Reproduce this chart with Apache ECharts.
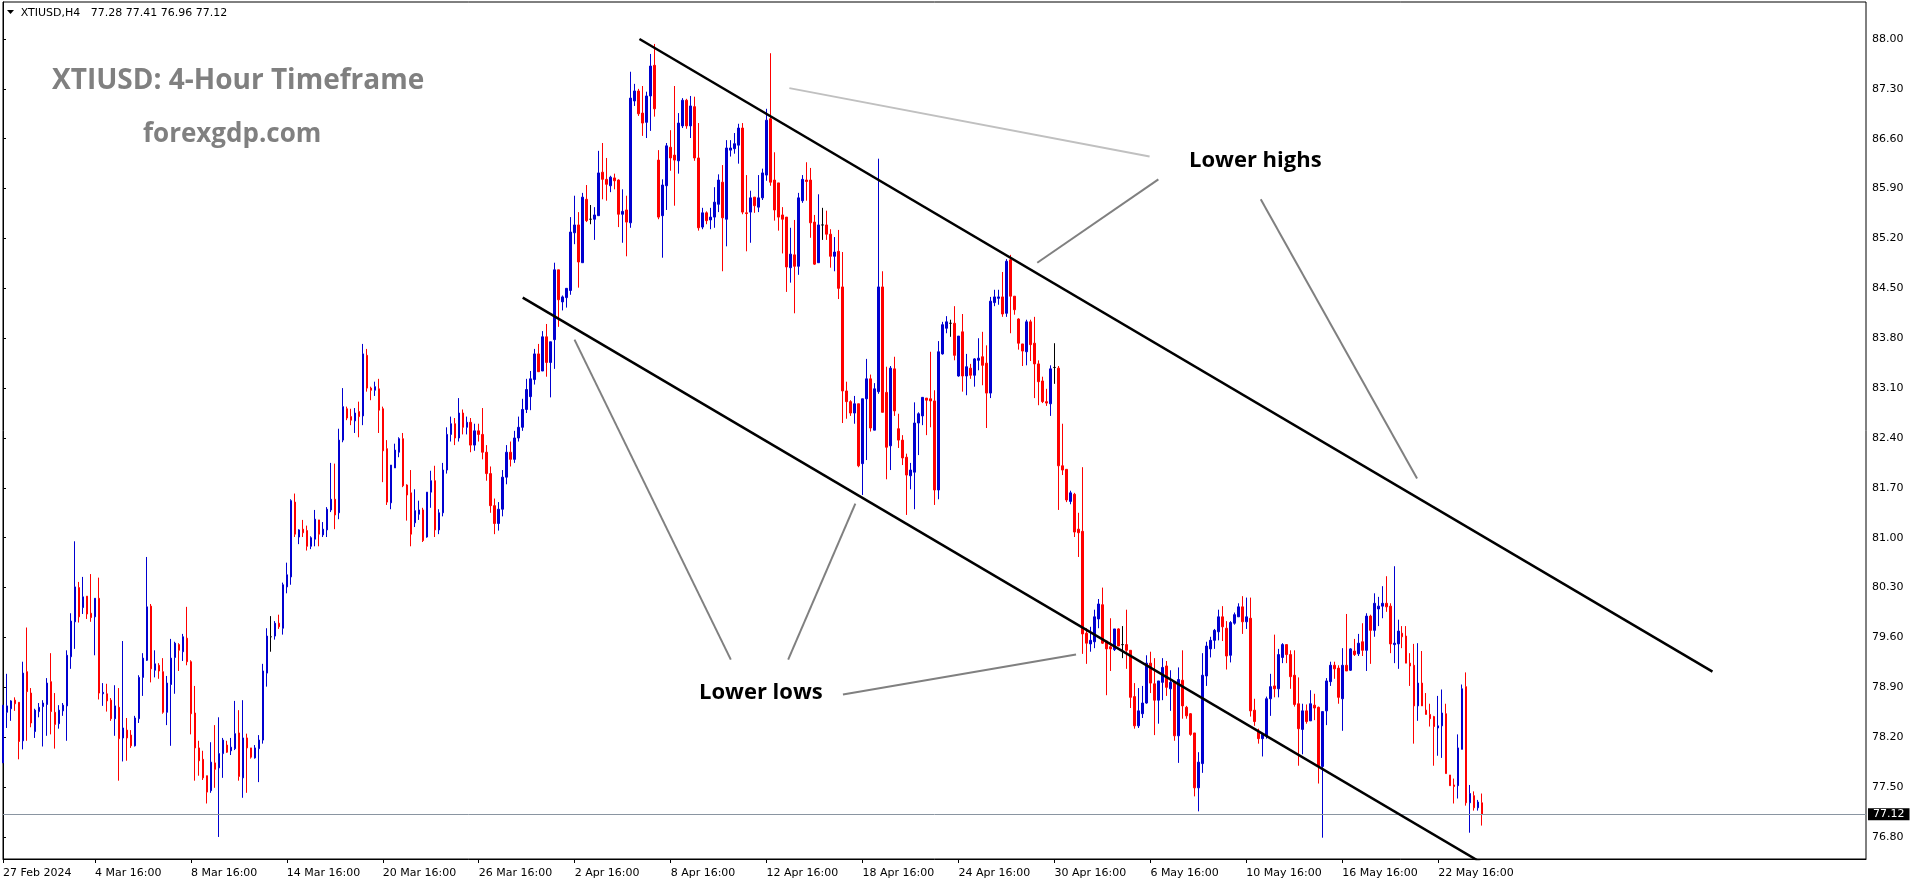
<!DOCTYPE html>
<html><head><meta charset="utf-8">
<script src="https://cdn.jsdelivr.net/npm/echarts@6/dist/echarts.min.js"></script>
<style>html,body{margin:0;padding:0;background:#fff;overflow:hidden}#c{width:1916px;height:884px}</style>
</head><body><div id="c"></div><script>
// ---- candle data (H4 bars, oldest first) ----
const opens = [
77.84,78.55,78.60,78.72,78.69,78.15,79.12,78.82,78.28,78.56,
78.63,78.66,78.98,78.55,78.39,78.57,78.64,79.33,79.82,80.30,
80.02,80.18,79.94,79.89,80.15,78.81,78.81,78.72,78.46,78.62,
78.19,78.30,78.23,78.08,78.46,79.04,79.28,80.04,79.14,79.21,
79.12,78.55,78.94,79.32,79.50,79.40,79.59,79.26,78.54,78.05,
77.89,77.66,77.45,77.84,77.77,77.97,78.09,78.01,78.04,78.26,
77.63,78.19,78.05,77.91,78.04,78.16,79.10,79.61,79.62,79.80,
79.73,80.31,80.45,81.50,81.01,81.12,81.10,80.88,80.98,81.25,
81.04,81.11,81.39,81.54,81.35,82.37,82.81,82.70,82.64,82.77,
82.71,83.56,83.10,83.07,83.09,82.81,82.25,81.49,81.98,82.20,
82.39,81.74,81.63,81.21,81.33,81.39,81.01,81.64,81.80,81.11,
81.35,81.95,82.45,82.60,82.40,82.75,82.55,82.62,82.30,82.50,
82.45,82.20,81.90,81.45,81.20,81.40,81.85,82.20,82.10,82.40,
82.55,82.80,82.98,83.22,83.58,83.34,83.82,83.46,83.78,84.76,
84.31,84.37,84.47,85.28,85.39,84.86,85.75,85.47,85.47,85.52,
86.13,86.03,85.94,86.05,86.02,85.54,85.60,85.42,87.13,87.27,
86.96,86.83,87.20,87.63,86.30,85.52,85.94,86.48,86.37,86.29,
86.78,87.14,86.78,87.05,86.33,85.36,85.56,85.46,85.50,85.68,
85.99,85.47,86.44,86.46,86.51,86.75,85.56,85.57,85.78,85.64,
85.77,86.09,86.88,86.02,85.98,85.53,85.50,84.79,84.97,84.81,
85.73,86.02,86.02,85.43,84.86,85.39,85.39,85.26,84.95,85.02,
84.52,83.06,82.91,82.75,82.88,82.04,82.95,83.23,82.51,83.05,
84.52,83.04,82.29,83.37,82.53,82.37,82.13,81.87,81.92,82.61,
82.71,82.96,82.95,82.92,81.67,83.58,83.94,84.01,84.01,83.27,
83.89,83.27,83.38,83.28,83.49,83.54,83.45,83.03,84.30,84.36,
84.38,84.15,84.90,84.39,84.07,83.72,83.61,84.03,83.73,83.44,
83.20,82.91,82.88,83.39,83.38,82.01,81.96,81.51,81.61,81.12,
81.09,79.66,79.51,79.54,79.86,80.06,79.55,79.47,79.43,79.72,
79.50,79.50,79.42,78.77,78.36,78.53,78.68,79.24,78.95,78.72,
78.97,79.20,78.88,78.97,78.22,79.00,78.62,78.53,78.26,77.49,
77.83,79.06,79.44,79.56,79.68,79.89,79.73,79.35,79.80,79.89,
80.03,79.82,79.87,78.58,78.28,78.18,78.22,78.74,78.92,78.88,
79.32,79.50,79.36,79.07,78.67,78.31,78.57,78.43,78.65,78.62,
77.79,78.57,78.98,79.21,79.17,78.74,79.21,79.14,79.41,79.37,
79.54,79.42,79.90,79.70,80.00,80.04,80.08,80.04,79.50,79.51,
79.66,79.62,79.24,79.21,78.64,78.96,78.58,78.52,78.49,78.33,
78.36,78.53,77.67,77.53,77.52,78.03,78.91,77.28,77.38,77.21,77.28];
const highs = [
78.65,79.09,78.72,78.76,78.69,79.26,79.74,78.89,78.60,78.68,
78.72,79.03,79.38,78.82,78.65,78.68,79.42,79.94,80.95,80.38,
80.45,80.18,80.49,80.15,80.44,78.96,78.95,78.75,78.93,78.89,
79.55,78.47,78.30,78.50,79.07,79.38,80.73,80.07,79.42,79.24,
79.31,79.06,79.58,79.54,79.52,79.65,80.03,79.28,78.92,78.15,
78.01,77.66,78.13,78.37,78.48,78.19,78.15,78.19,78.71,78.58,
78.72,78.25,78.05,78.09,78.23,79.23,79.73,79.90,79.83,79.92,
80.37,80.65,81.54,81.62,81.12,81.25,81.17,81.02,81.39,81.25,
81.22,81.43,82.05,82.04,82.53,83.10,82.84,82.81,82.82,82.91,
83.72,83.65,83.12,83.19,83.23,82.84,82.37,82.02,82.32,82.41,
82.47,81.75,81.95,81.68,81.52,81.42,81.64,81.94,82.01,81.40,
82.05,82.55,82.70,82.68,82.96,82.80,82.70,82.68,82.60,82.60,
82.82,82.30,82.00,81.55,81.50,81.95,82.30,82.35,82.50,82.70,
82.95,83.23,83.34,83.65,83.72,83.90,84.00,83.75,84.86,84.76,
84.40,84.50,85.50,85.80,85.57,85.84,85.95,85.67,85.64,86.43,
86.54,86.33,86.08,86.11,86.03,85.89,85.80,87.54,87.37,87.30,
87.34,87.26,87.79,87.93,86.44,86.03,86.54,86.72,87.34,86.96,
87.17,87.16,87.20,87.19,86.82,85.63,85.58,85.63,85.92,86.10,
86.23,86.58,86.58,86.68,86.81,86.82,86.09,85.87,85.78,86.09,
86.18,87.02,87.80,86.41,85.98,85.64,85.50,85.35,85.46,85.84,
86.09,86.27,86.19,85.53,85.82,85.63,85.59,85.33,85.22,85.32,
85.01,83.19,82.93,82.99,82.88,82.95,83.51,83.29,83.17,86.32,
84.74,83.40,83.41,83.54,82.74,82.44,82.18,82.05,82.90,82.76,
82.97,82.96,83.61,83.07,83.76,84.03,84.11,84.06,84.25,83.83,
84.14,83.58,83.44,83.52,83.80,83.89,83.70,84.38,84.48,84.48,
84.73,84.91,84.97,84.39,84.08,83.72,84.06,84.06,84.10,83.49,
83.26,83.09,83.42,83.73,83.41,82.60,81.96,81.66,81.63,81.35,
81.99,79.73,79.75,79.99,80.14,80.30,79.55,79.87,79.72,79.73,
79.76,79.99,79.42,78.96,78.89,78.92,79.35,79.40,79.31,78.99,
79.31,79.27,79.14,78.97,79.18,79.42,78.64,78.54,78.26,77.99,
79.38,79.54,79.61,79.72,79.99,80.04,79.83,79.83,79.95,80.08,
80.18,80.16,80.16,78.74,78.32,78.24,78.77,79.09,79.64,79.44,
79.52,79.50,79.42,79.42,79.04,78.67,78.66,78.86,78.81,78.63,
78.56,79.03,79.26,79.26,79.21,79.45,79.93,79.45,79.58,79.65,
79.80,79.94,79.92,80.22,80.17,80.32,80.46,80.08,80.60,79.85,
79.76,79.76,79.38,79.51,79.52,79.41,78.82,78.67,78.50,78.78,
78.87,78.67,77.67,77.62,78.24,78.94,79.11,77.53,77.44,77.32,77.41];
const lows = [
77.84,78.33,78.43,78.57,77.89,78.03,78.15,78.34,78.19,78.48,
78.07,78.22,78.24,78.04,78.32,78.50,78.15,79.16,79.44,79.81,
79.93,79.86,79.82,79.35,78.73,78.64,78.56,78.43,78.22,77.59,
77.86,77.87,78.05,78.07,78.40,78.78,79.27,78.97,79.04,79.02,
78.53,78.37,78.08,78.81,79.13,79.27,79.21,78.24,77.59,77.66,
77.60,77.27,77.42,77.49,76.80,77.63,77.98,77.95,78.02,77.59,
77.35,77.42,77.90,77.90,77.57,78.11,78.91,79.40,79.57,79.72,
79.64,80.22,80.34,81.01,80.91,81.01,80.82,80.84,80.88,80.88,
81.01,81.01,81.36,81.12,81.26,82.34,82.65,82.58,82.47,82.41,
82.58,83.05,82.93,82.99,82.47,81.78,81.46,81.40,81.98,82.13,
81.71,81.24,80.88,81.15,81.25,80.94,81.00,81.42,81.01,81.05,
81.30,81.90,82.35,82.30,82.35,82.45,82.45,82.20,82.22,82.35,
82.10,81.80,81.35,81.05,81.10,81.30,81.75,82.00,82.05,82.35,
82.50,82.75,82.79,83.15,83.33,83.34,83.26,82.97,83.37,83.96,
84.19,84.23,84.41,85.12,84.51,84.86,85.43,85.40,85.18,85.52,
85.75,85.73,85.85,85.89,85.36,85.14,84.95,85.35,87.06,86.92,
86.64,86.61,86.71,86.91,85.47,84.93,85.60,86.15,85.66,86.11,
86.75,86.74,86.61,86.29,85.31,85.33,85.40,85.33,85.35,85.57,
84.74,85.09,86.35,86.39,86.25,85.54,85.02,85.14,85.56,85.57,
85.74,86.01,85.94,85.45,85.31,84.99,84.45,84.58,84.15,84.69,
85.70,85.73,85.21,84.83,84.86,85.18,85.18,84.79,84.74,84.35,
82.61,82.67,82.71,82.60,81.99,81.60,82.09,82.49,82.51,83.02,
82.76,81.82,81.95,82.71,82.26,82.02,81.32,81.68,81.40,82.16,
82.58,82.44,82.55,81.46,81.54,83.57,83.87,83.82,83.49,83.26,
83.05,83.00,83.23,83.12,83.35,83.14,82.54,82.96,84.25,84.27,
84.10,84.10,83.87,84.13,83.64,83.41,83.42,83.48,82.96,82.86,
82.89,82.85,82.71,83.16,81.39,81.88,81.50,81.47,81.01,80.73,
79.37,79.23,79.40,79.45,79.73,79.51,78.79,79.13,79.41,79.48,
79.31,79.16,78.61,78.32,78.33,78.47,78.67,78.82,78.23,78.39,
78.72,78.78,78.57,78.15,77.84,78.46,78.46,78.22,77.37,77.16,
77.70,78.92,79.32,79.44,79.56,79.55,79.15,79.25,79.78,79.89,
79.65,79.72,78.49,78.36,78.11,77.93,78.18,78.50,78.76,78.76,
79.24,79.24,78.88,78.63,77.80,77.96,78.39,78.43,78.44,77.55,
76.79,78.37,78.92,79.02,78.67,78.29,79.13,79.13,79.34,79.34,
79.34,79.13,79.23,79.61,79.76,79.87,79.96,79.38,79.24,79.16,
79.45,79.24,78.92,78.11,78.43,78.64,78.52,78.35,77.80,77.94,
77.91,77.69,77.52,77.27,77.34,78.03,77.24,76.86,77.17,77.17,76.96];
const closes = [
78.65,78.64,78.71,78.67,78.14,79.10,78.84,78.40,78.58,78.62,
78.68,78.96,78.56,78.38,78.58,78.65,79.35,79.83,80.31,79.89,
80.17,79.93,79.88,80.15,78.82,78.83,78.71,78.46,78.64,78.18,
78.33,78.19,78.08,78.47,79.04,79.31,80.03,79.16,79.23,79.13,
78.55,78.96,79.31,79.52,79.42,79.61,79.26,78.53,78.05,77.87,
77.63,77.43,77.85,77.75,77.97,78.16,77.99,78.06,78.25,77.65,
78.19,78.05,77.92,78.05,78.16,79.13,79.62,79.61,79.80,79.75,
80.34,80.48,81.52,81.05,81.11,81.07,80.88,81.00,81.26,81.05,
81.12,81.40,81.54,81.32,82.37,82.84,82.68,82.65,82.75,82.70,
83.58,83.10,83.07,83.12,82.79,82.22,81.50,82.02,82.23,82.39,
81.73,81.60,81.05,81.38,81.39,80.96,81.64,81.80,81.11,81.35,
81.95,82.45,82.60,82.40,82.75,82.55,82.62,82.30,82.50,82.45,
82.20,81.90,81.45,81.20,81.40,81.85,82.20,82.10,82.40,82.55,
82.80,83.08,83.23,83.58,83.33,83.82,83.46,83.75,84.76,84.34,
84.38,84.50,85.29,85.39,84.87,85.78,85.45,85.47,85.53,86.12,
86.03,85.96,86.06,86.01,85.54,85.58,85.43,87.17,87.27,86.95,
86.82,87.20,87.62,87.02,85.50,85.95,86.50,86.33,86.30,86.82,
87.14,86.78,87.06,86.33,85.35,85.56,85.45,85.50,85.71,86.02,
85.49,86.47,86.47,86.53,86.75,85.57,85.55,85.77,85.66,85.77,
86.12,86.86,85.99,85.60,85.50,85.47,84.80,84.98,84.81,85.77,
86.03,86.00,85.42,84.84,85.39,85.39,85.26,84.95,85.01,84.50,
83.06,82.91,82.75,82.88,82.01,82.95,83.23,82.54,83.09,84.52,
82.76,82.27,83.38,82.78,82.37,82.12,81.88,81.95,82.61,82.74,
82.97,82.93,82.92,81.67,83.61,83.99,84.03,84.01,83.56,83.83,
83.27,83.40,83.28,83.51,83.52,83.42,83.03,84.32,84.38,84.38,
84.14,84.88,84.39,84.20,83.73,83.62,84.03,83.71,83.44,83.19,
82.91,82.89,83.37,83.39,82.01,81.95,81.53,81.63,81.08,81.07,
79.65,79.52,79.56,79.89,80.07,79.52,79.44,79.44,79.72,79.48,
79.50,79.42,78.76,78.36,78.57,78.68,79.24,78.96,78.72,78.99,
79.18,78.90,78.97,78.22,79.01,78.64,78.50,78.24,77.49,77.85,
79.07,79.48,79.56,79.70,79.89,79.75,79.34,79.81,79.92,80.03,
79.82,79.89,78.57,78.42,78.18,78.24,78.74,78.91,78.88,79.36,
79.50,79.36,79.05,78.66,78.32,78.57,78.42,78.67,78.61,77.79,
78.56,78.99,79.21,79.16,78.76,79.21,79.13,79.44,79.36,79.52,
79.42,79.90,79.70,80.08,80.04,80.08,80.03,79.51,79.52,79.69,
79.61,79.24,79.20,78.64,78.96,78.64,78.52,78.46,78.35,78.36,
78.54,77.69,77.52,77.51,78.05,78.88,77.28,77.41,77.21,77.29,77.12];

// ---- axis ticks ----
const tickIndex = [0,23,47,71,95,119,143,167,191,215,239,263,287,311,335,359];
const tickLabels = ['27 Feb 2024','4 Mar 16:00','8 Mar 16:00','14 Mar 16:00','20 Mar 16:00','26 Mar 16:00',
  '2 Apr 16:00','8 Apr 16:00','12 Apr 16:00','18 Apr 16:00','24 Apr 16:00','30 Apr 16:00',
  '6 May 16:00','10 May 16:00','16 May 16:00','22 May 16:00'];
const yTicks = [76.80,77.50,78.20,78.90,79.60,80.30,81.00,81.70,82.40,83.10,83.80,84.50,85.20,85.90,86.60,87.30,88.00];
const lastPrice = 77.12;
const headerSymbol = 'XTIUSD,H4';
const headerOHLC = '77.28 77.41 76.96 77.12';

// ---- drawn objects, anchored in [bar index, price] ----
const upperChannel = [[159.2,88.00],[427.6,79.12]];
const lowerChannel = [[130.0,84.37],[372.5,76.35]];
const highsPointerLight = [[196.7,87.31],[286.8,86.35]];
const highsPointer1 = [[289.0,86.03],[258.7,84.86]];
const highsPointer2 = [[314.6,85.75],[353.7,81.83]];
const lowsPointer1 = [[142.95,83.78],[182.05,79.29]];
const lowsPointer2 = [[213.2,81.48],[196.4,79.29]];
const lowsPointer3 = [[210.1,78.80],[268.4,79.36]];

const SLOTS = 467;
const cats = Array.from({length: SLOTS}, (_, i) => String(i));
const candles = opens.map((o, i) => [o, closes[i], lows[i], highs[i]]);
const labelAt = {};
tickIndex.forEach((t, k) => { labelAt[t] = tickLabels[k]; });
const isTick = (idx) => labelAt[idx] !== undefined;

const FONT = 'DejaVu Sans';
function seg(data, color, width, z) {
  return {type:'line', xAxisIndex:1, yAxisIndex:0, data:data, symbol:'none', silent:true,
    lineStyle:{color:color, width:width}, z:z, animation:false};
}

const chart = echarts.init(document.getElementById('c'), null, {renderer:'canvas'});
chart.setOption({
  animation:false,
  backgroundColor:'#ffffff',
  grid:{left:2, top:2, right:50, bottom:25, show:true, borderColor:'#000', borderWidth:1, backgroundColor:'#fff'},
  xAxis:[
    {type:'category', data:cats, boundaryGap:false,
     axisLine:{show:true, lineStyle:{color:'#000', width:1}},
     axisTick:{show:true, interval:(i)=>isTick(i), length:4, lineStyle:{color:'#000'}},
     axisLabel:{interval:(i)=>isTick(i), formatter:(v)=>labelAt[Number(v)]||'', align:'left',
       color:'#000', fontFamily:FONT, fontSize:11, margin:9},
     splitLine:{show:false}},
    {type:'value', min:0, max:SLOTS-1, show:false}
  ],
  yAxis:{type:'value', position:'right', min:76.491, max:88.519,
     axisLine:{show:true, lineStyle:{color:'#000', width:1}},
     axisTick:{show:true, length:3, customValues:yTicks, lineStyle:{color:'#000'}},
     axisLabel:{customValues:yTicks, formatter:(v)=>Number(v).toFixed(2), color:'#000', fontFamily:FONT, fontSize:11, margin:6},
     splitLine:{show:false}},
  series:[
    {type:'candlestick', xAxisIndex:0, yAxisIndex:0, data:candles, barWidth:2, z:2,
     itemStyle:{color:'#0000d0', color0:'#ff0000', borderColor:'#0000d0', borderColor0:'#ff0000', borderColorDoji:'#000', borderWidth:1},
     markLine:{silent:true, symbol:['none','none'], animation:false,
       lineStyle:{color:'#8a95a1', width:1, type:'solid'},
       label:{show:true, position:'end', distance:2, formatter:()=>lastPrice.toFixed(2), backgroundColor:'#000', color:'#fff',
         padding:[1,5,0,5], fontFamily:FONT, fontSize:11},
       data:[{yAxis:lastPrice}]}},
    seg(upperChannel,'#000',2.5,5),
    seg(lowerChannel,'#000',2.5,5),
    seg(highsPointerLight,'#c0c0c0',2,4),
    seg(highsPointer1,'#808080',2,4),
    seg(highsPointer2,'#808080',2,4),
    seg(lowsPointer1,'#808080',2,4),
    seg(lowsPointer2,'#808080',2,4),
    seg(lowsPointer3,'#808080',2,4)
  ],
  graphic:[
    {type:'polygon', shape:{points:[[7,10],[14,10],[10.5,14]]}, style:{fill:'#000'}, silent:true},
    {type:'text', x:20.7, y:13.5, silent:true, style:{text:headerSymbol, fill:'#000', fontFamily:FONT, fontSize:11, align:'left', verticalAlign:'middle'}},
    {type:'text', x:90.7, y:13.5, silent:true, style:{text:headerOHLC, fill:'#000', fontFamily:FONT, fontSize:11, align:'left', verticalAlign:'middle'}},
    {type:'text', x:52, y:81.2, silent:true, style:{text:'XTIUSD: 4-Hour Timeframe', fill:'#808080', fontFamily:'Open Sans', fontWeight:'bold', fontSize:28, align:'left', verticalAlign:'middle'}},
    {type:'text', x:143, y:134.5, silent:true, style:{text:'forexgdp.com', fill:'#808080', fontFamily:'Open Sans', fontWeight:'bold', fontSize:26, align:'left', verticalAlign:'middle'}},
    {type:'text', x:1189, y:160.5, silent:true, style:{text:'Lower highs', fill:'#000', fontFamily:'Open Sans', fontWeight:'bold', fontSize:22, align:'left', verticalAlign:'middle'}},
    {type:'text', x:699, y:692.5, silent:true, style:{text:'Lower lows', fill:'#000', fontFamily:'Open Sans', fontWeight:'bold', fontSize:22, align:'left', verticalAlign:'middle'}}
  ]
});
</script></body></html>
